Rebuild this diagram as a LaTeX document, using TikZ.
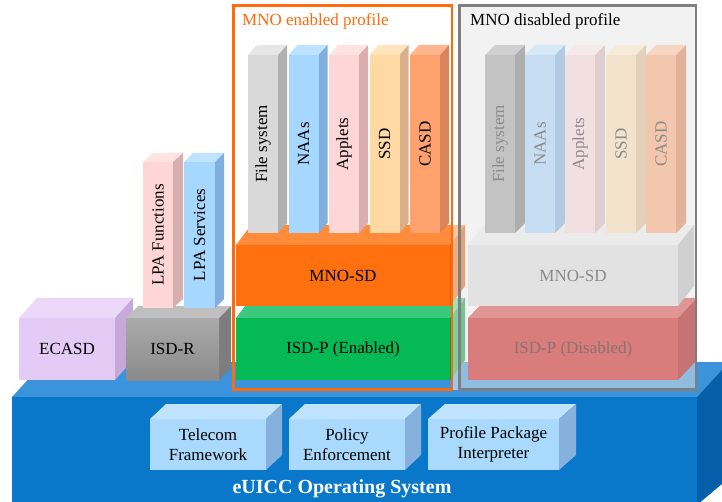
\documentclass[tikz,border=0pt]{standalone}
\usepackage{fontspec}
\setmainfont{Liberation Serif}
\usetikzlibrary{calc}

% three face colours (front, top, side) for one kind of box
\newcommand\facecolours[4]{%
  \definecolor{#1f}{HTML}{#2}\definecolor{#1t}{HTML}{#3}\definecolor{#1s}{HTML}{#4}%
  \tikzset{#1F/.style={fill=#1f},#1T/.style={fill=#1t},#1S/.style={fill=#1s}}}

\facecolours{os}{0A78CA}{3B93DB}{0660A9}
\facecolours{osbox}{A9D9FC}{C0E4FE}{86B1DD}
\facecolours{ecasd}{E4CBF5}{EBD7F8}{C6A9D8}
\facecolours{isdr}{999999}{BFBFBF}{7D7D7D}
\facecolours{pink}{FFD6D6}{FFE2E2}{D9AEAE}
\facecolours{blue}{A6D7FF}{BEE3FF}{80AEDD}
\facecolours{grey}{D9D9D9}{E6E6E6}{B0B0B0}
\facecolours{peach}{FFD9A3}{FFE4BE}{D9B089}
\facecolours{salmon}{FFA26E}{FFB68D}{D9845A}
\facecolours{mnosd}{FF700F}{FF8B3B}{E05F05}
\facecolours{isdp}{05BA55}{3BC97D}{049E48}
\facecolours{dgrey}{C3C3C3}{D0D0D0}{AEAEAE}
\facecolours{dblue}{C7DEF2}{D6E7F6}{B2CAE2}
\facecolours{dpink}{F2E0E1}{F6E9E9}{E0CDCD}
\facecolours{dpeach}{F3E3CC}{F6EBD9}{E3D0B8}
\facecolours{dsalmon}{F2C7AE}{F6D5C1}{E2B39A}
\facecolours{dmnosd}{E2E2E2}{EBEBEB}{D0D0D0}
\facecolours{disdp}{D97C7C}{E19696}{C57373}

\definecolor{isdrtop}{HTML}{ABABAB}
\definecolor{isdrbot}{HTML}{8A8A8A}
\tikzset{isdrF/.style={top color=isdrtop,bottom color=isdrbot}}

\definecolor{enabledline}{HTML}{FF6A0A}
\definecolor{disabledline}{HTML}{7F7F7F}
\definecolor{disabledfill}{HTML}{E6E6E6}
\definecolor{fadedtext}{HTML}{8A8A8A}
\definecolor{fadedred}{HTML}{8C7272}

\tikzset{
  lbl/.style={font=\fontsize{17}{20}\selectfont,inner sep=0pt,align=center,text=black},
  vlbl/.style={lbl,rotate=90},
  flbl/.style={lbl,text=fadedtext},
  vflbl/.style={vlbl,text=fadedtext},
  redlbl/.style={lbl,text=fadedred},
  ostitle/.style={font=\fontsize{20}{24}\selectfont\bfseries,text=white,inner sep=0pt},
  frametitle/.style={font=\fontsize{17}{20}\selectfont,inner sep=0pt,anchor=base west},
  frameline/.style={line width=2.6pt}
}

% a box seen from the front: name, front top-left, front bottom-right,
% depth dx, depth dy, colour set, label style, label
\newcommand\cuboid[8]{%
  \coordinate (#1-nw) at #2;
  \coordinate (#1-se) at #3;
  \coordinate (#1-ne) at (#1-se |- #1-nw);
  \path[#6T] (#1-nw) -- ++(#4,#5) -- ([shift={(#4,#5)}]#1-ne) -- (#1-ne) -- cycle;
  \path[#6S] (#1-ne) -- ++(#4,#5) -- ([shift={(#4,#5)}]#1-se) -- (#1-se) -- cycle;
  \path[#6F] (#1-nw) rectangle (#1-se);
  \node[#7] (#1) at ($(#1-nw)!0.5!(#1-se)$) {#8};
}

\begin{document}
\begin{tikzpicture}[x=1pt,y=-1pt]
\useasboundingbox (0,0) rectangle (722,502);
\clip (0,0) rectangle (722,502);

% operating system slab
\fill[osT] (12,397) -- (44,362) -- (729,362) -- (697,397) -- cycle;
\fill[osS] (697,397) -- (729,362) -- (729,478) -- (697,505) -- cycle;
\fill[osF] (12,397) rectangle (697,505);
\node[ostitle,anchor=base] (os) at (342,493) {eUICC Operating System};

\cuboid{tf}{(150,419)}{(266,470)}{16}{-15}{osbox}{lbl}{Telecom\\Framework}
\cuboid{pe}{(289,419)}{(405,470)}{16}{-15}{osbox}{lbl}{Policy\\Enforcement}
\cuboid{ppi}{(428,419)}{(559,470)}{17}{-15}{osbox}{lbl}{Profile Package\\Interpreter}

% issuer security domains and LPA
\cuboid{ecasd}{(19,318)}{(115,380)}{18}{-20}{ecasd}{lbl}{ECASD}
\cuboid{isdr}{(126,318)}{(219,380)}{12}{-12}{isdr}{lbl}{ISD-R}
\cuboid{lpaf}{(143,162)}{(173,308)}{10}{-9}{pink}{vlbl}{LPA Functions}
\cuboid{lpas}{(184,162)}{(215,308)}{9}{-9}{blue}{vlbl}{LPA Services}

% enabled profile
\cuboid{isdpe}{(236,318)}{(450,380)}{15}{-20}{isdp}{lbl}{ISD-P (Enabled)}
\cuboid{mnoe}{(236,245)}{(450,306)}{15}{-20}{mnosd}{lbl}{MNO-SD}
\cuboid{fse}{(248,55)}{(278,233)}{9}{-10}{grey}{vlbl}{File system}
\cuboid{naae}{(288.5,55)}{(318.5,233)}{9}{-10}{blue}{vlbl}{NAAs}
\cuboid{appe}{(329,55)}{(359,233)}{9}{-10}{pink}{vlbl}{Applets}
\cuboid{ssde}{(369.5,55)}{(399.5,233)}{9}{-10}{peach}{vlbl}{SSD}
\cuboid{casde}{(410,55)}{(440,233)}{9}{-10}{salmon}{vlbl}{CASD}

% veil over the disabled side
\fill[white,opacity=0.5] (453,5) rectangle (459.5,390);
\fill[disabledfill,opacity=0.5] (459.5,5.5) rectangle (696,389.5);

% disabled profile
\cuboid{isdpd}{(468,318)}{(678,380)}{19}{-20}{disdp}{redlbl}{ISD-P (Disabled)}
\cuboid{mnod}{(468,245)}{(678,306)}{16}{-20}{dmnosd}{flbl}{MNO-SD}
\cuboid{fsd}{(485,55)}{(515,233)}{10}{-10}{dgrey}{vflbl}{File system}
\cuboid{naad}{(525,55)}{(555,233)}{10}{-10}{dblue}{vflbl}{NAAs}
\cuboid{appd}{(565,55)}{(595,233)}{10}{-10}{dpink}{vflbl}{Applets}
\cuboid{ssdd}{(606,55)}{(636,233)}{10}{-10}{dpeach}{vflbl}{SSD}
\cuboid{casdd}{(646,55)}{(676,233)}{10}{-10}{dsalmon}{vflbl}{CASD}

% profile frames
\draw[frameline,enabledline] (233.5,5.5) rectangle (452,389.5);
\draw[frameline,disabledline] (459.5,5.5) rectangle (696,389.5);
\node[frametitle,text=enabledline] (enl) at (242,26) {MNO enabled profile};
\node[frametitle] (disl) at (470,26) {MNO disabled profile};
\end{tikzpicture}
\end{document}
